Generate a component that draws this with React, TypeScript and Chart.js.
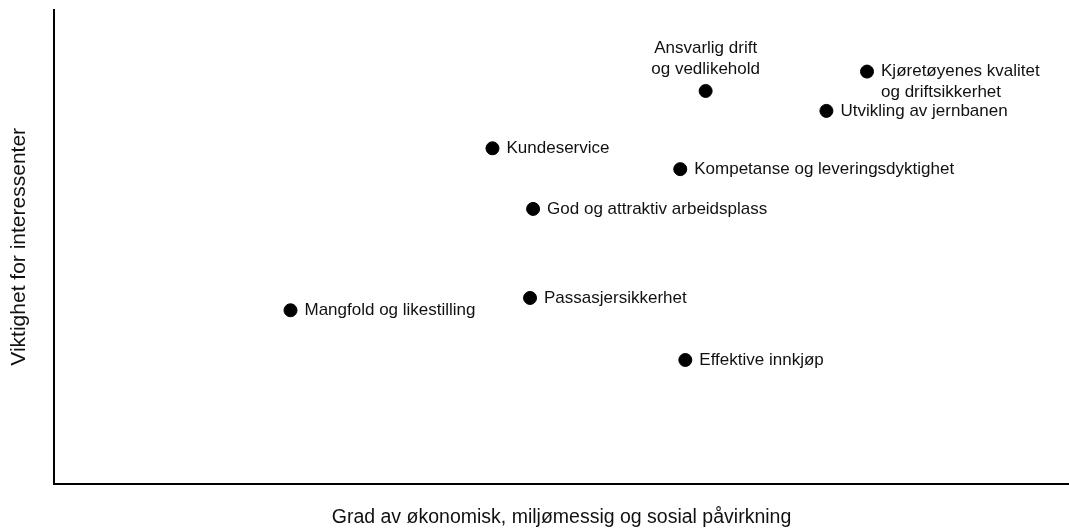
import React, { useEffect, useRef } from "react";
import { Chart, registerables } from "chart.js";

Chart.register(...registerables);

const topicNames: string[][] = [
  ["Mangfold og likestilling"],
  ["Passasjersikkerhet"],
  ["Effektive innkjøp"],
  ["God og attraktiv arbeidsplass"],
  ["Kundeservice"],
  ["Kompetanse og leveringsdyktighet"],
  ["Ansvarlig drift", "og vedlikehold"],
  ["Utvikling av jernbanen"],
  ["Kjøretøyenes kvalitet", "og driftsikkerhet"],
];
const impactValues: number[] = [23.3, 46.9, 62.2, 47.2, 43.2, 61.7, 64.2, 76.1, 80.1];
const importanceValues: number[] = [36.6, 39.2, 26.1, 58.0, 70.8, 66.4, 82.9, 78.7, 87.0];

const xAxisTitle = "Grad av økonomisk, miljømessig og sosial påvirkning";
const yAxisTitle = "Viktighet for interessenter";

const labelsAbove = new Set(["Ansvarlig drift"]);

const FONT = "'Liberation Sans', Arial, Helvetica, sans-serif";

const pointLabelPlugin = {
  id: "pointLabels",
  afterDatasetsDraw(chart: any) {
    const meta = chart.getDatasetMeta(0);
    const ctx = chart.ctx;
    ctx.save();
    ctx.font = `17px ${FONT}`;
    ctx.fillStyle = "#111111";
    ctx.textBaseline = "middle";
    const lineH = 21;
    meta.data.forEach((el: any, i: number) => {
      const lines = topicNames[i];
      const { x, y } = el.getProps(["x", "y"], true);
      if (labelsAbove.has(lines[0])) {
        ctx.textAlign = "center";
        const n = lines.length;
        lines.forEach((ln, j) => {
          ctx.fillText(ln, x, y - 22 - (n - 1 - j) * lineH);
        });
      } else {
        ctx.textAlign = "left";
        lines.forEach((ln, j) => {
          ctx.fillText(ln, x + 14, y + j * lineH);
        });
      }
    });
    ctx.restore();
  },
};

export default function App() {
  const canvasRef = useRef<HTMLCanvasElement | null>(null);

  useEffect(() => {
    document.body.style.margin = "0";
    const canvas = canvasRef.current;
    if (!canvas) return;
    const chart = new Chart(canvas, {
      type: "scatter",
      data: {
        datasets: [
          {
            data: impactValues.map((v, i) => ({ x: v, y: importanceValues[i] })),
            backgroundColor: "#000000",
            borderColor: "#000000",
            pointRadius: 6.5,
            pointHoverRadius: 6.5,
          },
        ],
      },
      options: {
        animation: false,
        responsive: false,
        layout: { autoPadding: false, padding: { top: 10, right: 0, left: 0, bottom: 0 } },
        plugins: {
          legend: { display: false },
          tooltip: { enabled: false },
        },
        scales: {
          x: {
            type: "linear",
            min: 0,
            max: 100,
            grid: { display: false, drawTicks: false, tickLength: 0 },
            border: { display: true, color: "#000000", width: 2 },
            ticks: { display: false, padding: 0 },
            title: {
              display: true,
              text: xAxisTitle,
              color: "#111111",
              font: { family: FONT, size: 19.5 },
              padding: { top: 22, bottom: 1 },
            },
          },
          y: {
            type: "linear",
            min: 0,
            max: 100,
            grid: { display: false, drawTicks: false, tickLength: 0 },
            border: { display: true, color: "#000000", width: 2 },
            ticks: { display: false, padding: 0 },
            title: {
              display: true,
              text: yAxisTitle,
              color: "#111111",
              font: { family: FONT, size: 21 },
              padding: { top: 6.5, bottom: 22.3 },
            },
          },
        },
      },
      plugins: [pointLabelPlugin],
    });
    return () => chart.destroy();
  }, []);

  return (
    <div style={{ width: 1069, height: 530, background: "#ffffff" }}>
      <canvas ref={canvasRef} width={1069} height={530} />
    </div>
  );
}
